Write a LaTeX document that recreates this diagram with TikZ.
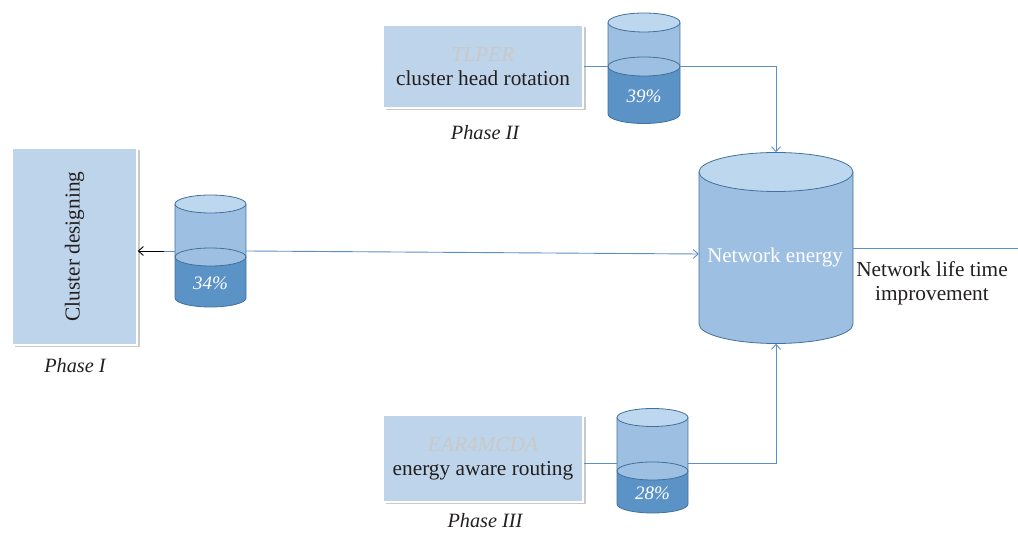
\documentclass[tikz,border=0pt]{standalone}
\usepackage{fontspec}
\setmainfont{Liberation Serif}
\usetikzlibrary{arrows.meta,calc,shadows}
\definecolor{boxfill}{HTML}{BDD4EA}
\definecolor{tankbody}{HTML}{9DC0E2}
\definecolor{tanktop}{HTML}{BDD7EE}
\definecolor{tankdark}{HTML}{5B93C7}
\definecolor{tankedge}{HTML}{41719C}
\definecolor{linkblue}{HTML}{5B8FCC}
\definecolor{tagray}{HTML}{C9C9C9}
\definecolor{inkdark}{HTML}{231F20}

% cylinder with a darker lower (filled) part
% #1 name, #2 cx, #3 half width, #4 top y, #5 level y, #6 bottom y, #7 ry, #8 label
\newcommand\tank[8]{%
  \fill[tankbody] ({#2-#3},#4) rectangle ({#2+#3},#5);
  \fill[tankdark] ({#2-#3},#5) -- ({#2-#3},#6)
     arc[start angle=180,end angle=360,x radius=#3,y radius=#7] -- ({#2+#3},#5) -- cycle;
  \draw[edge,fill=tankbody] (#2,#5) ellipse[x radius=#3,y radius=#7];
  \draw[edge] ({#2-#3},#4) -- ({#2-#3},#6)
     arc[start angle=180,end angle=360,x radius=#3,y radius=#7] -- ({#2+#3},#4);
  \draw[edge,fill=tanktop] (#2,#4) ellipse[x radius=#3,y radius=#7];
  \node[inner sep=0,minimum width={2*#3},minimum height={#4-#6+2*#7}] (#1) at (#2,{(#4+#6)/2}) {};
  \node[pct] (#1-pct) at (#2,{(#5+#6)/2-6}) {#8};
}

\begin{document}
\begin{tikzpicture}[x=1pt,y=1pt,
  phasebox/.style={draw=white,line width=1.5pt,fill=boxfill,inner sep=0,
    drop shadow={shadow xshift=2.5pt,shadow yshift=-2.5pt,opacity=0.35,fill=black!60}},
  edge/.style={draw=tankedge,line width=0.8pt},
  link/.style={draw=linkblue,line width=0.9pt},
  tip/.style={-{Straight Barb[length=5pt,width=9pt]}},
  txt/.style={font=\fontsize{21.3}{24}\selectfont,text=inkdark},
  phase/.style={font=\fontsize{20.3}{23}\selectfont\itshape,text=inkdark},
  pct/.style={font=\fontsize{19}{22}\selectfont\itshape,text=white},
]
\useasboundingbox (0,0) rectangle (1018,535);

% phase boxes
\node[phasebox,minimum width=200,minimum height=83,align=center,txt] (b2) at (483,468.5)
  {\textcolor{tagray}{\itshape TLPER}\\cluster head rotation};
\node[phasebox,minimum width=125,minimum height=197] (b1) at (74.5,288.5) {};
\node[txt,rotate=90] (b1t) at (b1) {Cluster designing};
\node[phasebox,minimum width=200,minimum height=87,align=center,txt] (b3) at (483,76.5)
  {\textcolor{tagray}{\itshape EAR4MCDA}\\energy aware routing};

\node[phase] (ph2) at (485,402) {Phase II};
\node[phase] (ph1) at (75,169) {Phase I};
\node[phase] (ph3) at (485,14) {Phase III};

% storage levels
\tank{t39}{644}{36}{512.5}{468.5}{421}{9.5}{39\%}
\tank{t34}{210.5}{35.5}{331}{278}{237}{9}{34\%}
\tank{t28}{652.5}{35.5}{117.5}{64}{31}{9}{28\%}

% network energy cylinder
\fill[tankbody] (699,363) -- (699,211) arc[start angle=180,end angle=360,x radius=77,y radius=19.5] -- (853,363) -- cycle;
\draw[edge] (699,363) -- (699,211) arc[start angle=180,end angle=360,x radius=77,y radius=19.5] -- (853,363);
\draw[edge,fill=tanktop] (776,363) ellipse[x radius=77,y radius=19.5];
\node[inner sep=0,minimum width=154,minimum height=191] (ne) at (776,287) {};
\node[font=\fontsize{21}{24}\selectfont,text=white] (net) at (775,278) {Network energy};

\coordinate (out) at (1018,287);
\node[txt,align=center] (life) at (932,252) {Network life time\\improvement};

% connectors
\draw[link] (b2.east) -- (b2.east -| t39.west);
\draw[link,tip] (b2.east -| t39.east) -| (ne.north);

\coordinate (p3) at ($(b3.east)+(0,-4.5)$);
\draw[link] (p3) -- (p3 -| t28.west);
\draw[link,tip] (p3 -| t28.east) -| (ne.south);

\draw[link] (t34.west) -- ++(-11,0) coordinate (k);
\draw[line width=0.9pt,black,tip] (k) -- (k -| b1.east);
\draw[link,tip] (t34.east) -- ($(ne.west)+(0,-6)$);

\draw[link] (ne.east) -- (out);
\end{tikzpicture}
\end{document}
